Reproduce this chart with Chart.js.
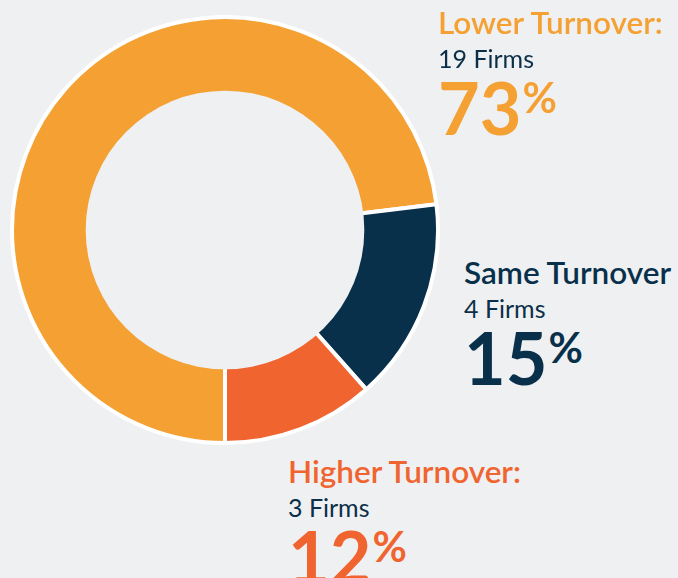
<!DOCTYPE html>
<html>
<head>
<meta charset="utf-8">
<script src="https://cdn.jsdelivr.net/npm/chart.js@4"></script>
<style>
  html, body { margin: 0; padding: 0; }
  body { width: 678px; height: 578px; background: #eff0f2; position: relative; overflow: hidden; font-family: Lato, "Open Sans", sans-serif; }
  #wrap { position: absolute; left: 10px; top: 15px; width: 430px; height: 430px; }
  .lbl { position: absolute; white-space: nowrap; }
  .lbl .title { font-weight: 600; font-size: 31.5px; line-height: 34px; }
  .lbl .firms { font-size: 25px; line-height: 38px; color: #0b2f48; }
  .lbl .pct { font-weight: 700; font-size: 72px; line-height: 60px; }
  .lbl .pct span { font-size: 42px; line-height: 1; vertical-align: top; position: relative; top: -1px; margin-left: 1px; }
</style>
</head>
<body>
<div id="wrap"><canvas id="donut"></canvas></div>
<div id="labels"></div>
<script>
document.addEventListener("DOMContentLoaded", function () {
    var categories = ['Lower Turnover:', 'Same Turnover', 'Higher Turnover:'];
    var firms = [19, 4, 3];
    var percents = [73, 15, 12];
    var colors = ['#f4a033', '#08304a', '#f06430'];
    var bgColor = '#eff0f2';

    // where each text block sits (left, top)
    var labelPos = [[438, 5], [464, 255], [288, 454]];

    // paint over the white stroke on the inner edge of the ring
    var clearHole = {
        id: 'clearHole',
        afterDatasetsDraw: function (chart) {
            var arc = chart.getDatasetMeta(0).data[0];
            if (!arc) return;
            var c = chart.ctx;
            c.save();
            c.beginPath();
            c.arc(arc.x, arc.y, arc.innerRadius + 3, 0, Math.PI * 2);
            c.fillStyle = bgColor;
            c.fill();
            c.restore();
        }
    };

    var ctx = document.getElementById('donut').getContext('2d');
    new Chart(ctx, {
        type: 'doughnut',
        data: {
            labels: categories,
            datasets: [{
                data: firms,
                backgroundColor: colors,
                borderColor: '#ffffff',
                borderWidth: 4
            }]
        },
        options: {
            responsive: true,
            maintainAspectRatio: false,
            animation: false,
            rotation: 180,
            cutout: '64%',
            layout: { padding: 0 },
            plugins: {
                legend: { display: false },
                tooltip: { enabled: false }
            }
        },
        plugins: [clearHole]
    });

    var box = document.getElementById('labels');
    categories.forEach(function (name, i) {
        var d = document.createElement('div');
        d.className = 'lbl';
        d.style.left = labelPos[i][0] + 'px';
        d.style.top = labelPos[i][1] + 'px';
        d.innerHTML =
            '<div class="title" style="color:' + colors[i] + '">' + name + '</div>' +
            '<div class="firms">' + firms[i] + ' Firms</div>' +
            '<div class="pct" style="color:' + colors[i] + '">' + percents[i] + '<span>%</span></div>';
        box.appendChild(d);
    });
});
</script>
</body>
</html>
